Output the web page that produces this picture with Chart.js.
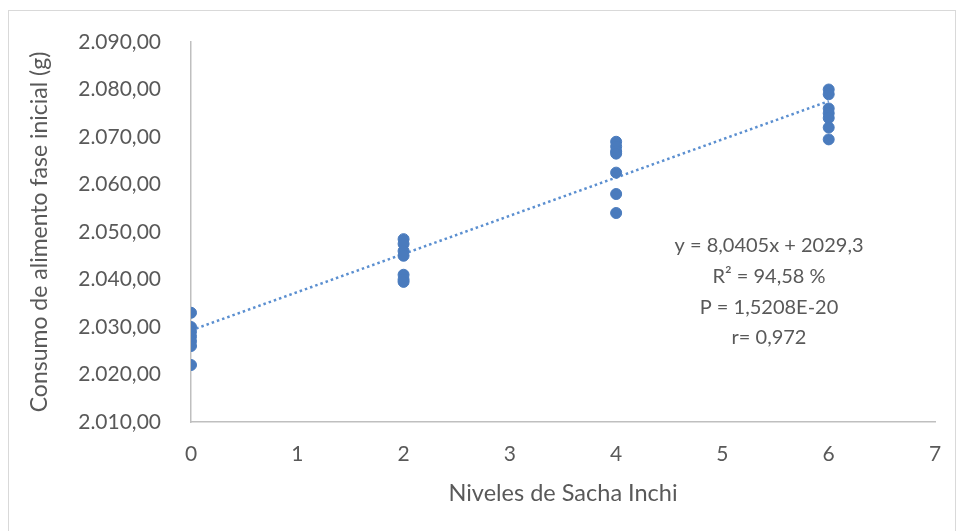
<!DOCTYPE html>
<html lang="es">
<head>
  <meta charset="UTF-8" />
  <title>Consumo de alimento - Sacha Inchi</title>
  <script src="https://cdn.jsdelivr.net/npm/chart.js"></script>
  <style>
body {
  margin: 0;
  background: #fff;
  font-family: Lato, sans-serif;
}
.marco {
  position: absolute;
  left: 8px;
  top: 10px;
  width: 946px;
  height: 540px;
  border: 1px solid #d9d9d9;
}
.lienzo {
  position: absolute;
  left: 0;
  top: 0;
  width: 958px;
  height: 531px;
}
  </style>
</head>
<body>
  <div class="marco"></div>
  <div class="lienzo"><canvas id="graficaConsumo"></canvas></div>

  <script>
    // datos
    const niveles0 = [0, 0, 0, 0, 0, 0, 0];
    const consumo0 = [2033, 2030, 2029, 2028, 2027, 2026, 2022];
    const niveles2 = [2, 2, 2, 2, 2, 2, 2];
    const consumo2 = [2048.5, 2047.5, 2046, 2045, 2041, 2040, 2039.5];
    const niveles4 = [4, 4, 4, 4, 4, 4, 4];
    const consumo4 = [2069, 2068, 2067, 2066.5, 2062.5, 2058, 2054];
    const niveles6 = [6, 6, 6, 6, 6, 6, 6];
    const consumo6 = [2080, 2079, 2076, 2075, 2074, 2072, 2069.5];

    // tendencia lineal: y = 8,0405x + 2029,3
    const pendiente = 8.0405;
    const intercepto = 2029.3;
    const tendenciaX = [0, 6];

    const ticksX = [0, 1, 2, 3, 4, 5, 6, 7];
    const ticksY = [2010, 2020, 2030, 2040, 2050, 2060, 2070, 2080, 2090];

    const textoEcuacion = ["y = 8,0405x + 2029,3", "R² = 94,58 %", "P = 1,5208E-20", "r= 0,972"];

    const puntos = [];
    [[niveles0, consumo0], [niveles2, consumo2], [niveles4, consumo4], [niveles6, consumo6]].forEach(([xs, ys]) => {
      xs.forEach((x, i) => puntos.push({ x: x, y: ys[i] }));
    });
    const tendencia = tendenciaX.map(x => ({ x: x, y: pendiente * x + intercepto }));

    const gris = "#595959";

    function formatoES(v) {
      const entero = Math.round(v).toString().replace(/\B(?=(\d{3})+(?!\d))/g, ".");
      return entero + ",00";
    }

    const textoPlugin = {
      id: "ecuacion",
      afterDraw(chart) {
        const ctx = chart.ctx;
        ctx.save();
        ctx.fillStyle = gris;
        ctx.font = "20px Lato, sans-serif";
        ctx.textAlign = "center";
        ctx.textBaseline = "middle";
        const yPos = [246, 277, 308, 338];
        textoEcuacion.forEach((t, i) => ctx.fillText(t, 769, yPos[i]));
        ctx.restore();
      }
    };

    new Chart(document.getElementById("graficaConsumo"), {
      type: "scatter",
      data: {
        datasets: [
          {
            label: "Consumo",
            data: puntos,
            backgroundColor: "#4a7bbd",
            borderColor: "#4a7bbd",
            pointRadius: 5.5,
            pointHoverRadius: 5.5
          },
          {
            type: "line",
            label: "Lineal",
            data: tendencia,
            borderColor: "#5b8fd0",
            borderWidth: 2.5,
            borderDash: [2.5, 3],
            pointRadius: 0,
            fill: false
          }
        ]
      },
      options: {
        responsive: true,
        maintainAspectRatio: false,
        animation: false,
        layout: { padding: { top: 42, right: 23, left: 22, bottom: 0 } },
        plugins: {
          legend: { display: false },
          tooltip: { enabled: false }
        },
        scales: {
          x: {
            type: "linear",
            min: 0,
            max: 7,
            afterBuildTicks: s => { s.ticks = ticksX.map(v => ({ value: v })); },
            afterFit: s => { s.height = 109; },
            grid: { display: false },
            border: { color: "#bfbfbf", width: 1.5 },
            ticks: { color: gris, font: { size: 21, family: "Lato" }, padding: 12 },
            title: { display: true, text: "Niveles de Sacha Inchi", color: gris, font: { size: 23.5, family: "Lato" }, padding: { top: 4, bottom: 23 } }
          },
          y: {
            min: 2010,
            max: 2090,
            afterBuildTicks: s => { s.ticks = ticksY.map(v => ({ value: v })); },
            afterFit: s => { s.width = 169; },
            grid: { display: false },
            border: { color: "#bfbfbf", width: 1.5 },
            ticks: { color: gris, font: { size: 21, family: "Lato" }, padding: 22, callback: v => formatoES(v) },
            title: { display: true, text: "Consumo de alimento fase inicial (g)", color: gris, font: { size: 23, family: "Lato" } }
          }
        }
      },
      plugins: [textoPlugin]
    });
  </script>
</body>
</html>
